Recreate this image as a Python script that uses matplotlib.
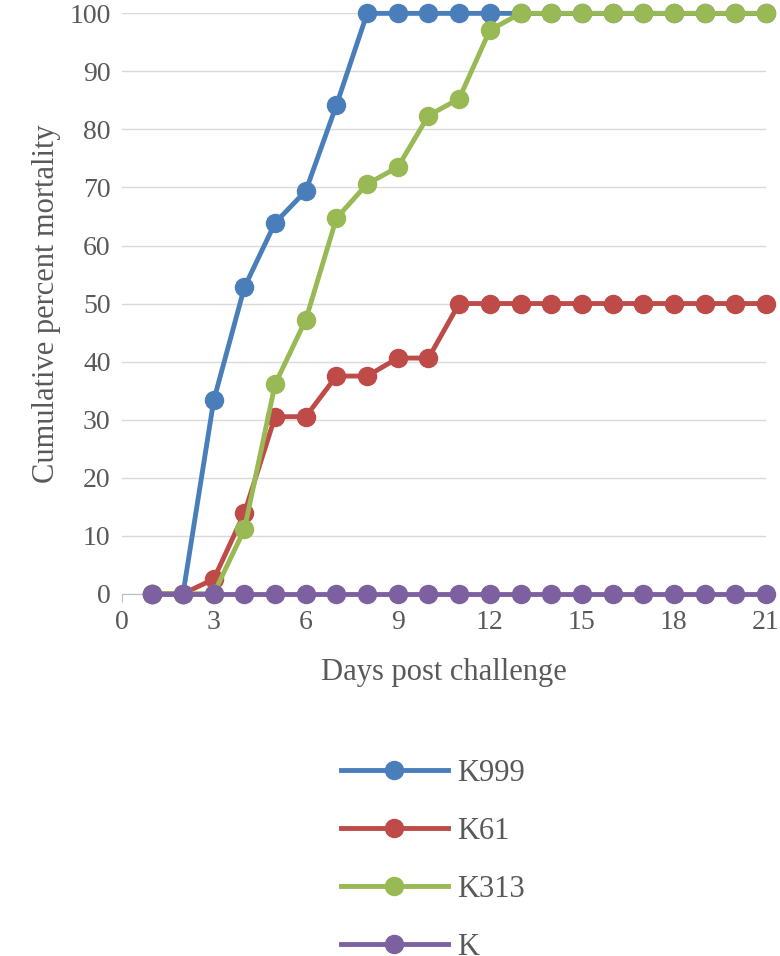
import matplotlib
matplotlib.use("Agg")
import matplotlib.pyplot as plt
from matplotlib.lines import Line2D

plt.rcParams['font.family'] = ['Liberation Serif', 'DejaVu Serif']

days = list(range(1, 22))
k999 = [0, 0, 33.3, 52.8, 63.9, 69.4, 84.2] + [100] * 14
k61 = [0, 0, 2.5, 13.9, 30.5, 30.5, 37.5, 37.5, 40.6, 40.6] + [50] * 11
k313 = [0, 0, 0, 11.1, 36.1, 47.2, 64.7, 70.6, 73.5, 82.4, 85.3, 97.1] + [100] * 9
k = [0] * 21

series = [("K999", k999, "#4a7ebb"), ("K61", k61, "#be4b48"),
          ("K313", k313, "#98b954"), ("K", k, "#7d60a0")]

fig = plt.figure(figsize=(7.8, 9.56), dpi=100)
ax = fig.add_axes([0.156, 0.379, 0.826, 0.607])
for name, vals, c in series:
    ax.plot(days, vals, color=c, lw=3.5, marker='o', ms=13, label=name, clip_on=False, zorder=3)
ax.set_xlim(0, 21)
ax.set_ylim(0, 100)
ax.set_xticks(range(0, 22, 3))
ax.set_yticks(range(0, 101, 10))
ax.grid(axis='y', color='#d9d9d9', lw=1)
ax.set_axisbelow(True)
for s in ['top', 'right', 'left']:
    ax.spines[s].set_visible(False)
ax.spines['bottom'].set_color('#bfbfbf')
ax.tick_params(axis='y', length=0, labelsize=20, colors='#595959', pad=8)
ax.tick_params(axis='x', length=6, direction='out', color='#bfbfbf', labelsize=20, colors='#595959', pad=6)
ax.set_xlabel("Days post challenge", fontsize=22, color='#595959', labelpad=16)
ax.set_ylabel("Cumulative percent mortality", fontsize=22, color='#595959', labelpad=6)

handles = [Line2D([0], [0], color=c, lw=3.5, marker='o', ms=13) for _, _, c in series]
fig.legend(handles, [n for n, _, _ in series], loc='center', bbox_to_anchor=(0.555, 0.1),
           frameon=False, fontsize=22, labelcolor='#595959', handlelength=3.5,
           labelspacing=0.95, handletextpad=0.3)
fig.savefig("out.png", dpi=100)
